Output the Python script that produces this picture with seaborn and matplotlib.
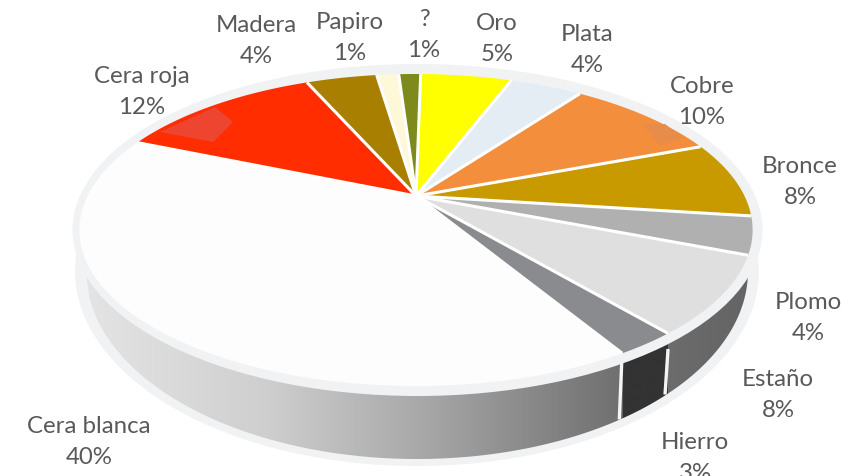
import numpy as np
import matplotlib
matplotlib.use("Agg")
import matplotlib.pyplot as plt
from matplotlib.colors import LinearSegmentedColormap
from matplotlib.patches import Ellipse, Polygon
import seaborn as sns

# --- data -------------------------------------------------------------
categories = ["Oro", "Plata", "Cobre", "Bronce", "Plomo", "Estaño", "Hierro",
              "Cera blanca", "Cera roja", "Madera", "Papiro", "?"]
shares = [5.4, 4.3, 9.2, 7.9, 3.9, 8.0, 2.5, 39.9, 12.1, 4.2, 1.3, 1.3]
percent_labels = ["5%", "4%", "10%", "8%", "4%", "8%", "3%",
                  "40%", "12%", "4%", "1%", "1%"]
slice_colors = ["#ffff00", "#e4edf4", "#f28e3c", "#c89a00", "#b0b0b0", "#dfdfdf",
                "#8a8b8f", "#fdfdfd", "#ff2d00", "#a87f00", "#fdf8d8", "#7f8a1c"]
label_centers = [(497, 38), (587, 49), (702, 101), (800, 181), (808, 317), (778, 394),
                 (695, 457), (89, 441), (142, 91), (256, 40), (350, 37), (424, 34)]

# --- style ------------------------------------------------------------
sns.set_theme(style="white")
plt.rcParams["font.family"] = ["Lato", "DejaVu Sans"]
palette = sns.color_palette(slice_colors)

X0, Y0, A, B, K = 416.0, 197.0, 148.6, 328.5, 0.218
START = 1.0  # degrees clockwise from the far point of the disc
RIM = "#f0f2f4"


def project(theta_deg, r=1.0):
    t = np.radians(theta_deg)
    u, v = r * np.sin(t), r * np.cos(t)
    w = 1 + K * v
    return X0 + B * u / w, Y0 - A * v / w


fig = plt.figure(figsize=(8.59, 4.77), dpi=100, facecolor="white")
ax = fig.add_axes([0, 0, 1, 1])
ax.set_axis_off()

fractions = np.array(shares) / np.sum(shares)
edges = START + 360 * np.concatenate([[0], np.cumsum(fractions)])


def base_y(x, cy, a, b):
    return cy + b * np.sqrt(np.clip(1 - ((x - 417) / a) ** 2, 0, None))


# --- side wall --------------------------------------------------------
BASE_CY, BASE_A, BASE_B = 272.0, 331.0, 188.0
ax.add_patch(Ellipse((417, BASE_CY), 684, 390, fc="#f1f2f4", ec="none", zorder=1))

x_hierro_right = project(edges[6])[0]
x_hierro_left = project(edges[7])[0]

wall_sections = [
    (86.0, x_hierro_left, ["#e4e4e4", "#cfcfcf", "#a2a2a2", "#6f6f6f"]),
    (x_hierro_left, x_hierro_right, ["#333333", "#333333"]),
    (x_hierro_right, 748.0, ["#6c6c6c", "#646464"]),
]
for x1, x2, cols in wall_sections:
    xs = np.linspace(x1, x2, 160)
    verts = np.column_stack([np.r_[xs, xs[::-1]],
                             np.r_[base_y(xs, BASE_CY, BASE_A, BASE_B),
                                   np.full(xs.size, 200.0)]])
    cmap = LinearSegmentedColormap.from_list("wall", cols)
    im = ax.imshow(np.linspace(0, 1, 256)[None, :], cmap=cmap, aspect="auto",
                   extent=(x1, x2, 480, 190), zorder=2, interpolation="bilinear")
    clip = Polygon(verts, closed=True, transform=ax.transData, fc="none", ec="none")
    ax.add_patch(clip)
    im.set_clip_path(clip)

for x in (x_hierro_left, x_hierro_right):
    ax.plot([x, x - 3], [350, base_y(x, BASE_CY, BASE_A, BASE_B) + 1],
            color="#f4f4f4", lw=2.4, zorder=3, solid_capstyle="butt")

# --- top disc ---------------------------------------------------------
ax.add_patch(Ellipse((417.5, 231), 690, 332, fc=RIM, ec="none", zorder=4))

for i, name in enumerate(categories):
    th = np.linspace(edges[i], edges[i + 1], 80)
    px, py = project(th)
    ax.fill(np.r_[X0, px], np.r_[Y0, py], color=palette[i], lw=0, zorder=5, label=name)

for e in edges[:-1]:
    px, py = project(e)
    ax.plot([X0, px], [Y0, py], color="white", lw=2.2, zorder=6, solid_capstyle="butt")

# soft highlights left on two slices
ax.fill([160, 215, 233, 213], [133, 108, 123, 143], color="#ee4530", lw=0, zorder=7)
ax.fill([643, 660, 683, 665], [125, 146, 139, 125], color="#e88c4c", lw=0, zorder=7)

# --- labels -----------------------------------------------------------
for name, pct, (lx, ly) in zip(categories, percent_labels, label_centers):
    ax.text(lx, ly + 1, f"{name}\n{pct}", ha="center", va="center", color="#595959",
            fontsize=17.3, linespacing=1.56, zorder=8)

ax.set_xlim(0, 859)
ax.set_ylim(477, 0)
fig.savefig("out.png", dpi=100, facecolor="white")
